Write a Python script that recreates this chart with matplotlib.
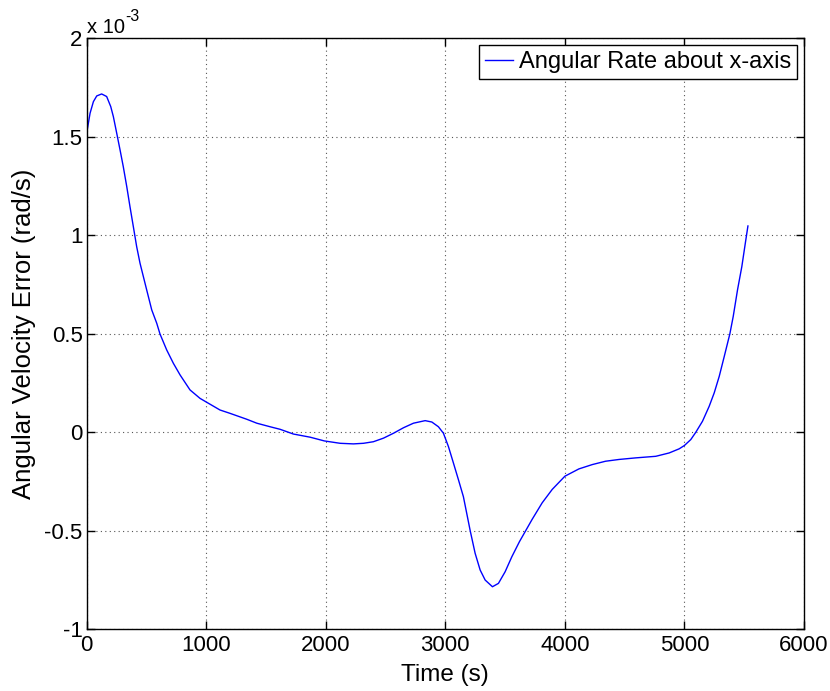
import matplotlib
matplotlib.use("Agg")
import matplotlib.pyplot as plt
from matplotlib.ticker import FixedLocator

plt.rcParams['font.family'] = ['Liberation Sans', 'DejaVu Sans']
plt.rcParams['axes.unicode_minus'] = False

# Time (s)
time_s = [0, 28, 56, 84, 125, 167, 201, 223, 251, 279, 306, 335, 362, 390,
          418, 446, 474, 502, 544, 586, 613, 669, 725, 781, 864, 948, 996,
          1115, 1199, 1339, 1423, 1534, 1618, 1729, 1869, 1988, 2120, 2231,
          2315, 2398, 2482, 2566, 2650, 2733, 2831, 2887, 2942, 2984, 3026,
          3068, 3110, 3151, 3208, 3249, 3291, 3333, 3394, 3444, 3500, 3556,
          3620, 3726, 3810, 3894, 4000, 4117, 4229, 4340, 4453, 4592, 4760,
          4872, 4956, 5000, 5053, 5095, 5151, 5207, 5249, 5291, 5333, 5380,
          5408, 5444, 5480, 5509, 5531]
# Angular velocity error (x 1e-3 rad/s)
omega_err = [1.518, 1.619, 1.678, 1.707, 1.717, 1.704, 1.653, 1.602, 1.518,
             1.433, 1.348, 1.247, 1.145, 1.044, 0.942, 0.858, 0.790, 0.722,
             0.621, 0.553, 0.499, 0.418, 0.350, 0.291, 0.215, 0.172, 0.155,
             0.113, 0.096, 0.066, 0.046, 0.028, 0.015, -0.009, -0.025, -0.044,
             -0.056, -0.059, -0.056, -0.048, -0.030, -0.005, 0.023, 0.046,
             0.059, 0.052, 0.028, -0.005, -0.073, -0.157, -0.242, -0.327,
             -0.500, -0.614, -0.699, -0.750, -0.784, -0.767, -0.708, -0.632,
             -0.555, -0.442, -0.358, -0.290, -0.223, -0.186, -0.164, -0.147,
             -0.138, -0.130, -0.122, -0.105, -0.084, -0.067, -0.037, 0.0,
             0.056, 0.132, 0.200, 0.284, 0.385, 0.500, 0.588, 0.723, 0.841,
             0.959, 1.047]

x_ticks = [0, 1000, 2000, 3000, 4000, 5000, 6000]
y_ticks = [-1, -0.5, 0, 0.5, 1, 1.5, 2]
y_tick_labels = ['-1', '-0.5', '0', '0.5', '1', '1.5', '2']
series_label = 'Angular Rate about x-axis'

W, H = 830, 691
fig = plt.figure(figsize=(W / 100, H / 100), dpi=100)
ax_l, ax_r, ax_t, ax_b = 86.7, 804.0, 38.2, 629.3
ax = fig.add_axes([ax_l / W, (H - ax_b) / H, (ax_r - ax_l) / W, (ax_b - ax_t) / H])

ax.plot(time_s, omega_err, color=(0, 0, 1), linewidth=1.0, label=series_label)

ax.set_xlim(0, 6000)
ax.set_ylim(-1, 2)
ax.xaxis.set_major_locator(FixedLocator(x_ticks))
ax.yaxis.set_major_locator(FixedLocator(y_ticks))
ax.set_yticklabels(y_tick_labels)
ax.set_xticklabels([str(t) for t in x_ticks])

ax.tick_params(direction='in', top=True, right=True, length=6, width=1,
               labelsize=16, colors='black')
ax.tick_params(axis='x', pad=4)
ax.tick_params(axis='y', pad=3)
for sp in ax.spines.values():
    sp.set_linewidth(1.0)
    sp.set_color('black')

ax.grid(True, linestyle=(0, (1, 3)), color='#555555', linewidth=0.8)

ax.set_xlabel('Time (s)', fontsize=17.5, labelpad=6)
ax.set_ylabel('Angular Velocity Error (rad/s)', fontsize=18.5, labelpad=6)

ax.annotate('x 10', xy=(0, 1), xycoords='axes fraction',
            xytext=(0, 3.5), textcoords='offset points',
            fontsize=14.5, ha='left', va='baseline')
ax.annotate('-3', xy=(0, 1), xycoords='axes fraction',
            xytext=(27.5, 12.5), textcoords='offset points',
            fontsize=11.5, ha='left', va='baseline')

leg = ax.legend(loc='upper right', fontsize=17, frameon=True, fancybox=False,
                edgecolor='black', framealpha=1, borderpad=0.25,
                handlelength=1.2, handletextpad=0.25, borderaxespad=0.3)
leg.get_frame().set_linewidth(1.0)

fig.savefig('out.png', dpi=100)
